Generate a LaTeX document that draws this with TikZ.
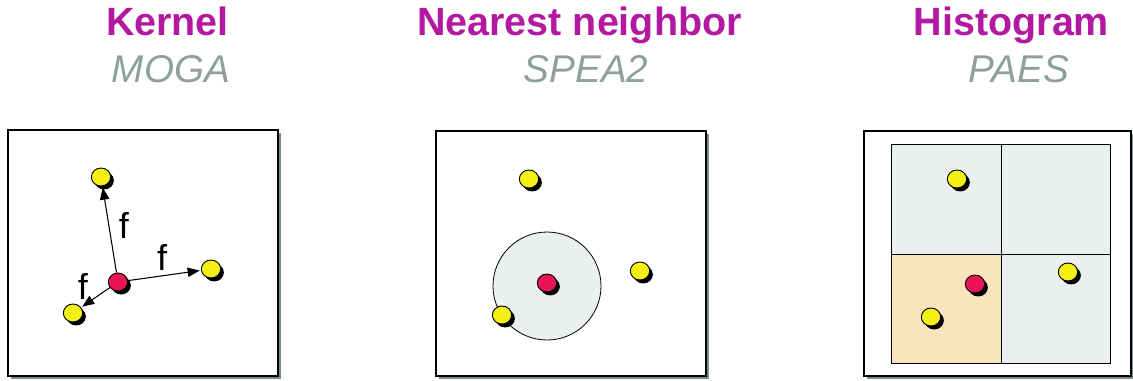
\documentclass[tikz,border=0pt]{standalone}
\usepackage{fontspec}
\setmainfont{Liberation Sans}
\usetikzlibrary{arrows.meta,shapes.geometric,shadows}
\definecolor{titlemagenta}{RGB}{178, 24, 160}
\definecolor{subgrey}{RGB}{140, 160, 158}
\definecolor{panelshadow}{RGB}{120, 140, 140}
\definecolor{cellgrey}{RGB}{234, 240, 240}
\definecolor{cellpeach}{RGB}{250, 228, 190}
\definecolor{dotyellow}{RGB}{245, 240, 20}
\definecolor{dotred}{RGB}{232, 20, 85}
\tikzset{
  title/.style={font=\fontsize{29.6}{32}\bfseries\selectfont, text=titlemagenta, anchor=base},
  subtitle/.style={font=\fontsize{29}{32}\itshape\selectfont, text=subgrey, anchor=base},
  panel/.style={draw=black, line width=1pt, fill=white,
    drop shadow={shadow xshift=2.2pt, shadow yshift=-2.2pt, fill=panelshadow, opacity=1}},
  ydot/.style={ellipse, draw=black, line width=0.7pt, fill=dotyellow, minimum width=14.5pt,
    minimum height=13.5pt, inner sep=0pt,
    drop shadow={shadow xshift=2.4pt, shadow yshift=-2.6pt, fill=black, opacity=1}},
  rdot/.style={ydot, fill=dotred},
  farrow/.style={-{Triangle[length=9pt, width=7pt]}, line width=0.8pt, shorten >=1pt},
  flabel/.style={font=\fontsize{27}{29}\selectfont, inner sep=0pt}
}
\begin{document}
\begin{tikzpicture}[x=0.75pt, y=-0.75pt]
  \useasboundingbox (0,0) rectangle (1133,380);
  % Titles
  \node[title] (kerneltitle) at (167.5,35) {Kernel};
  \node[subtitle] (kernelsub) at (171,82) {MOGA};
  \node[title] (nntitle) at (579.5,35) {Nearest neighbor};
  \node[subtitle] (nnsub) at (586,82) {SPEA2};
  \node[title] (histtitle) at (1011.5,35) {Histogram};
  \node[subtitle] (histsub) at (1019,82) {PAES};

  % Panel 1: Kernel
  \draw[panel] (8,130) rectangle (278,376);
  \node[ydot] (kt) at (101,177) {};
  \node[ydot] (kr) at (211,269) {};
  \node[ydot] (kb) at (73,313) {};
  \node[rdot] (kc) at (118,282) {};
  \draw[farrow] (kc) -- (kt);
  \draw[farrow] (kc) -- (kr);
  \draw[farrow] (kc) -- (kb);
  \node[flabel] (ft) at (124,225) {f};
  \node[flabel] (fr) at (162,257) {f};
  \node[flabel] (fb) at (83,286) {f};

  % Panel 2: Nearest neighbor
  \draw[panel] (436,131) rectangle (706,376);
  \node[circle, draw=black, line width=0.6pt, fill=cellgrey, minimum size=81pt] (nnring) at (547,286) {};
  \node[ydot] (nt) at (529,179) {};
  \node[ydot] (nr) at (640,271) {};
  \node[ydot] (nb) at (502,315) {};
  \node[rdot] (nc) at (547,283) {};

  % Panel 3: Histogram
  \draw[panel] (864,131) rectangle (1131,376);
  \draw[line width=0.6pt, fill=cellgrey] (891,144) rectangle (1001,254);
  \draw[line width=0.6pt, fill=cellgrey] (1001,144) rectangle (1110,254);
  \draw[line width=0.6pt, fill=cellpeach] (891,254) rectangle (1001,363);
  \draw[line width=0.6pt, fill=cellgrey] (1001,254) rectangle (1110,363);
  \node[ydot] (ht) at (957,179) {};
  \node[ydot] (hr) at (1068,272) {};
  \node[ydot] (hb) at (931,317) {};
  \node[rdot] (hc) at (975,284) {};
\end{tikzpicture}
\end{document}
